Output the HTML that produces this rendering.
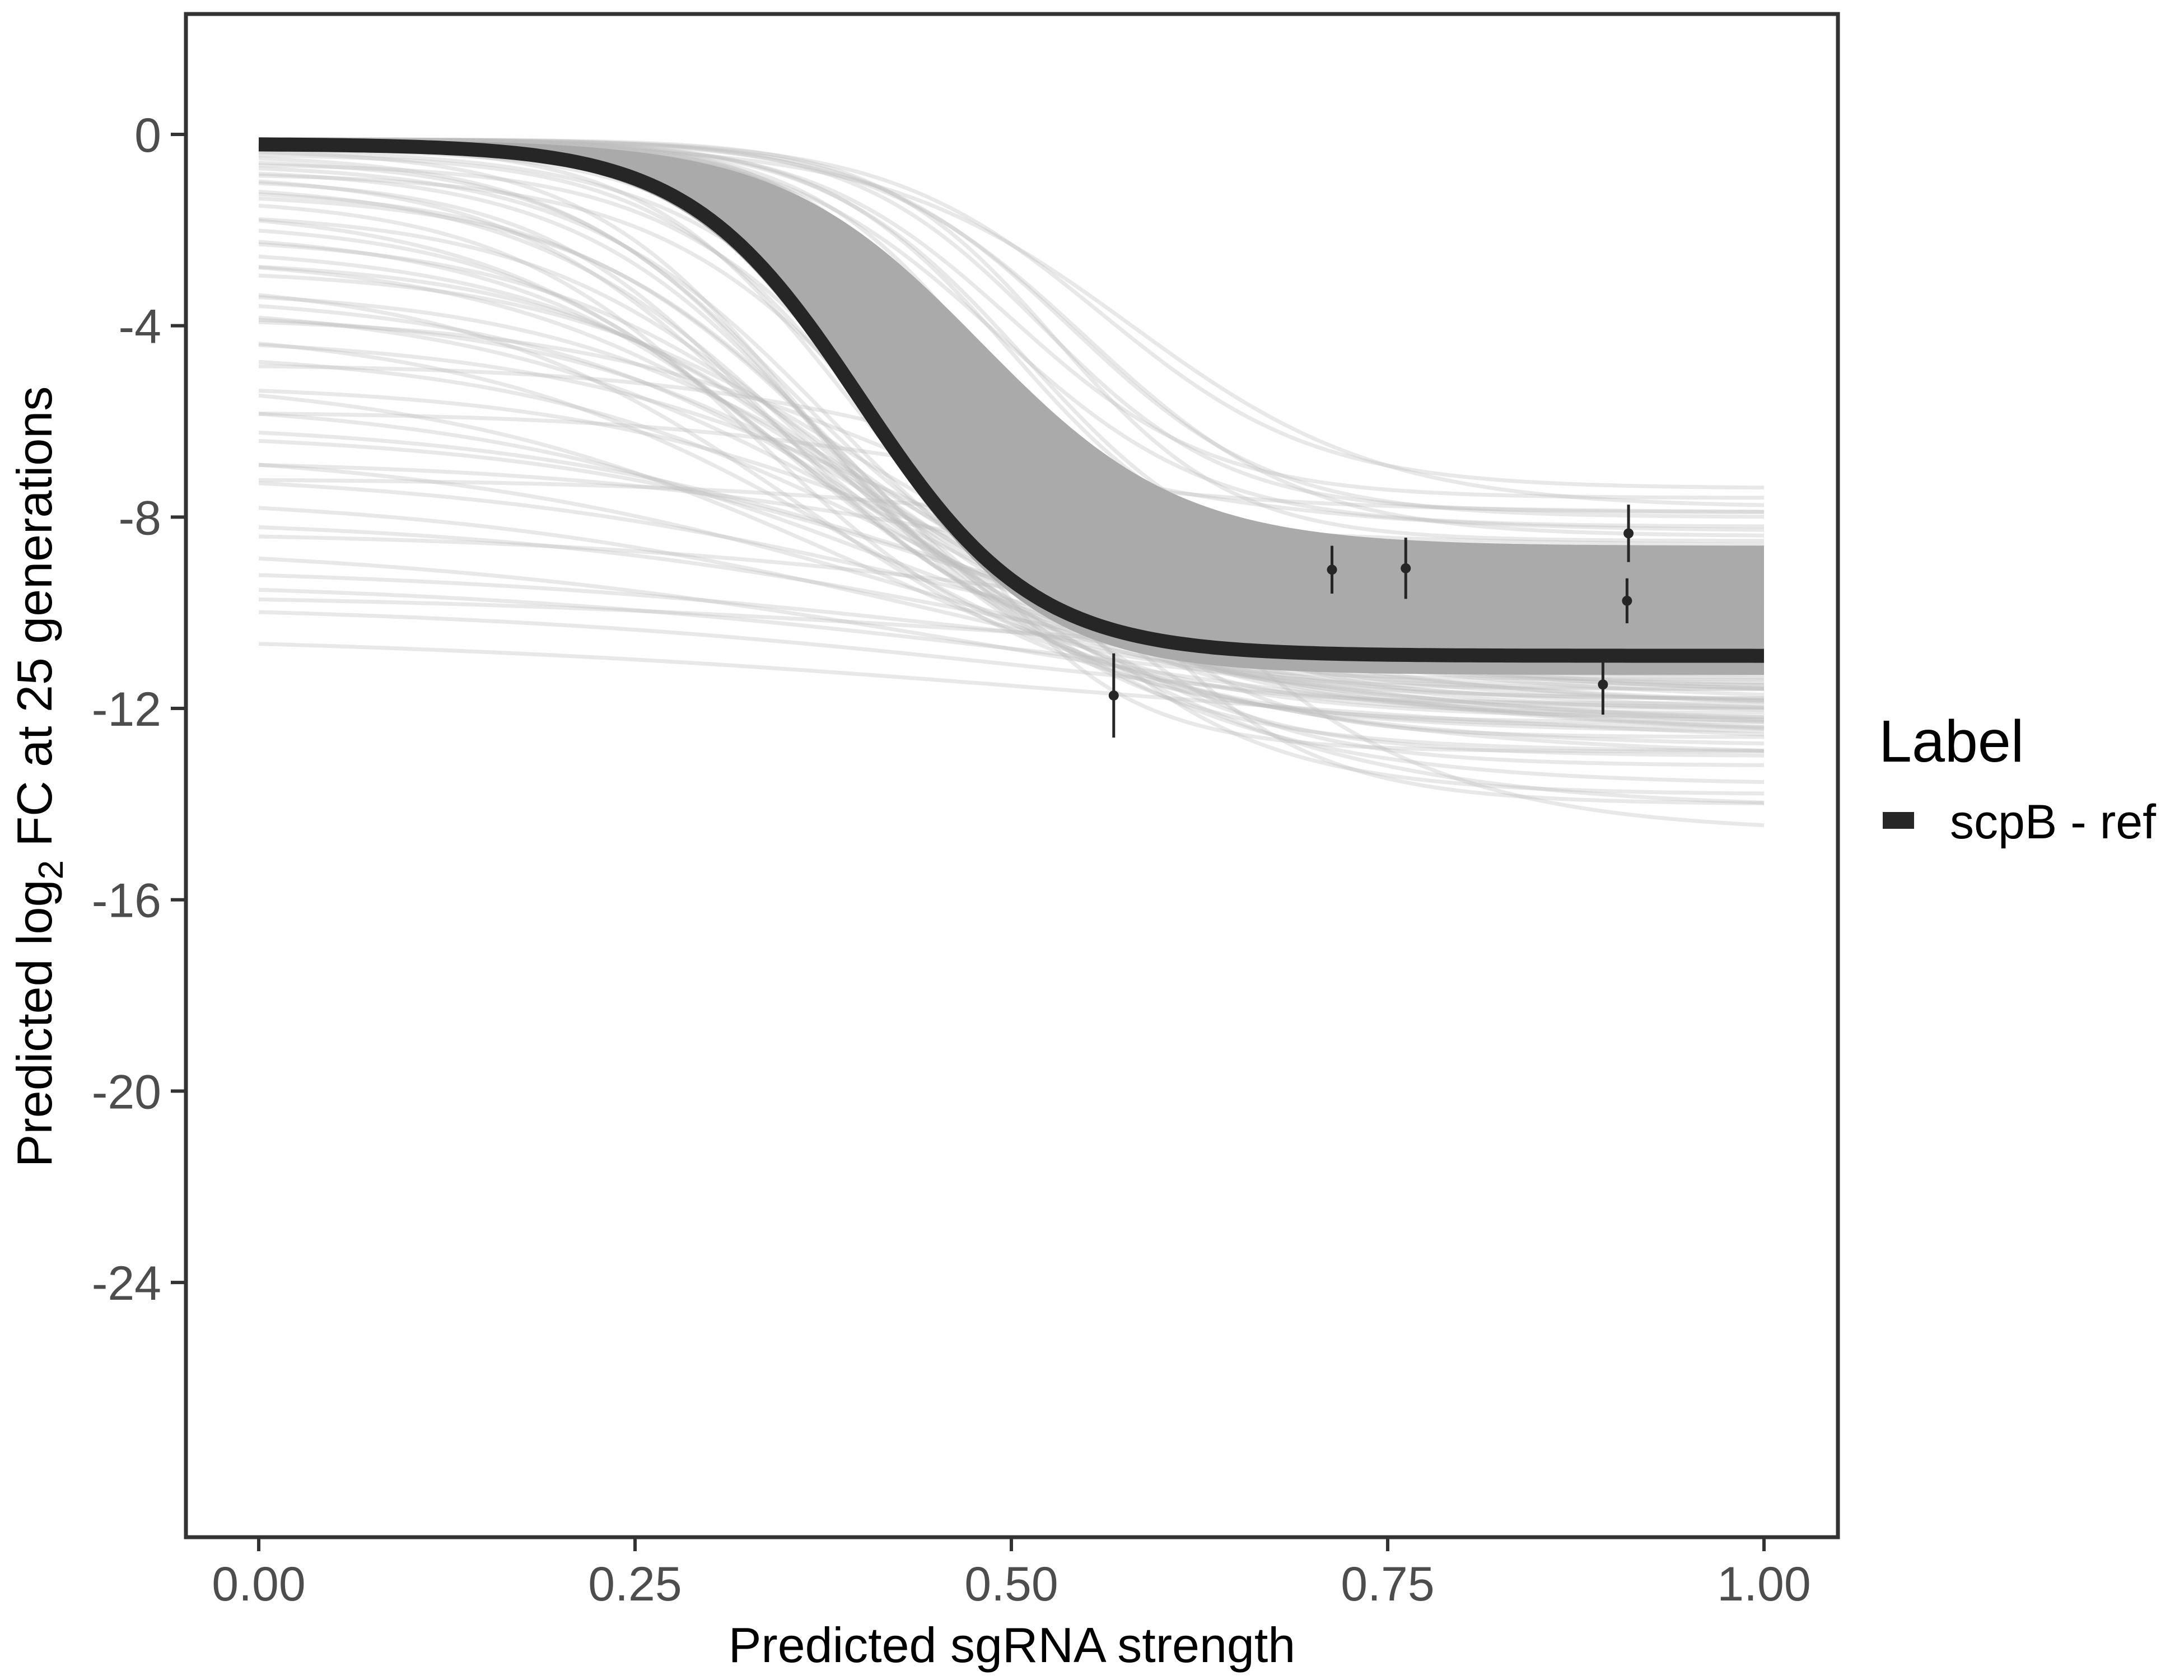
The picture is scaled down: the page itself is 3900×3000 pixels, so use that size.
<!DOCTYPE html>
<html><head><meta charset="utf-8">
<style>
html,body{margin:0;padding:0;background:#fff;}
svg{display:block;font-family:"Liberation Sans",sans-serif;}
</style></head>
<body>
<svg id="chart" width="3900" height="3000" viewBox="0 0 3900 3000">
<g id="plot"></g>
</svg>
<script>
// ---- data ----
const xTicks = [0, 0.25, 0.5, 0.75, 1.0];
const xTickLabels = ["0.00", "0.25", "0.50", "0.75", "1.00"];
const yTicks = [0, -4, -8, -12, -16, -20, -24];
const yTickLabels = ["0", "-4", "-8", "-12", "-16", "-20", "-24"];
// main fit: [top, bottom, midpoint, steepness]
const mainCurve = [-0.2, -10.9, 0.40, 17.5];
// dense band upper envelope
const bandUpper = [-0.1, -8.6, 0.48, 15];
// dense band lower envelope (right side, below main curve)
const bandLower = [-0.3, -11.3, 0.40, 17];
// posterior sample curves: [top, bottom, midpoint, steepness]
const sampleCurves = [
 [-0.1,-7.6,0.50,15],[-0.1,-7.9,0.52,16],[-0.1,-8.2,0.49,14],[-0.1,-8.5,0.53,17],[-0.1,-8.8,0.47,15],
 [-0.2,-9.2,0.46,14],[-0.1,-9.6,0.45,16],[-0.2,-10.0,0.44,15],[-0.1,-10.4,0.47,18],[-0.3,-11.0,0.42,15],
 [-0.1,-11.5,0.48,17],[-0.2,-12.0,0.45,14],[-0.1,-12.6,0.50,16],[-0.2,-13.2,0.47,13],[-0.3,-13.8,0.46,12],
 [-0.1,-14.0,0.52,14],[-0.2,-14.6,0.55,10],[-0.1,-7.4,0.56,14],[-0.2,-7.8,0.58,12],[-0.1,-12.9,0.43,16],
 [-0.6,-11.3,0.38,12],[-1.0,-11.6,0.36,11],[-1.5,-11.8,0.35,10],[-2.0,-12.2,0.37,10],[-2.5,-11.4,0.38,9],
 [-3.0,-12.5,0.36,9],[-3.5,-11.9,0.40,8],[-4.0,-12.8,0.39,8],[-4.5,-12.1,0.42,8],[-5.0,-13.0,0.40,7],
 [-5.5,-12.3,0.42,7],[-6.0,-11.7,0.45,7],[-6.5,-12.6,0.44,6],[-7.0,-11.9,0.46,6],[-7.5,-12.4,0.45,6],
 [-8.0,-12.0,0.48,6],[-8.5,-12.7,0.47,5],[-9.0,-11.8,0.50,5],[-9.3,-12.2,0.50,5],[-9.8,-12.5,0.52,5],
 [-10.4,-12.9,0.55,4],[-0.8,-10.6,0.33,12],[-1.8,-10.9,0.34,11],[-2.8,-10.4,0.39,10],[-3.8,-9.4,0.42,9],
 [-4.8,-8.3,0.48,9],[-5.8,-7.9,0.45,9],[-7.2,-8.6,0.50,8],[-6.8,-9.9,0.47,7],[-8.3,-10.8,0.52,6],
 [-1.2,-12.9,0.40,11],[-2.3,-13.6,0.42,9],[-3.3,-14.1,0.45,8],[-0.4,-10.1,0.35,13],[-9.6,-11.2,0.50,5],
 [-0.3,-11.2,0.36,14],[-0.5,-11.9,0.37,13],[-0.7,-12.3,0.38,12],[-0.9,-11.0,0.34,13],[-1.3,-11.4,0.33,12],
 [-0.2,-10.7,0.39,15],[-0.4,-11.6,0.41,14],[-0.6,-12.1,0.43,13],[-0.8,-13.0,0.44,12],[-1.1,-12.4,0.39,11],
 [-1.6,-10.8,0.36,11],[-2.1,-11.1,0.38,10],[-2.6,-12.0,0.40,10],[-3.2,-11.5,0.41,9],[-3.7,-12.3,0.43,9],
 [-4.2,-11.3,0.44,8],[-5.2,-11.6,0.46,8],[-6.2,-12.0,0.47,7],[-0.1,-9.0,0.50,16],[-0.1,-9.3,0.51,15],
 [-0.1,-8.0,0.54,15],[-0.1,-8.4,0.55,14],[-0.1,-9.8,0.49,16],[-0.2,-10.2,0.48,17],[-0.1,-11.8,0.50,15]
];
// observed points: [x, y, halfErr]
const pointsX = [0.568, 0.713, 0.762, 0.910, 0.909, 0.893];
const pointsY = [-11.73, -9.10, -9.07, -8.34, -9.75, -11.50];
const pointsErr = [0.88, 0.50, 0.64, 0.60, 0.47, 0.63];

// ---- scales ----
const PL=332, PR=3282, PT=25, PB=2745;
const X0=462, X1=3150;
const yZero=240, yPerUnit=85.42;
function sx(v){return X0+(X1-X0)*v;}
function sy(v){return yZero - v*yPerUnit;}
function logistic(p,x){return p[0]+(p[1]-p[0])/(1+Math.exp(-p[3]*(x-p[2])));}
function curvePts(p){let a=[];for(let i=0;i<=200;i++){const x=i/200;a.push([sx(x),sy(logistic(p,x))]);}return a;}
function toPath(pts){return 'M'+pts.map(q=>q[0].toFixed(1)+','+q[1].toFixed(1)).join('L');}

const NS='http://www.w3.org/2000/svg';
const svg=document.getElementById('chart');
const g=document.getElementById('plot');
function mk(tag,attrs,parent){const e=document.createElementNS(NS,tag);for(const k in attrs)e.setAttribute(k,attrs[k]);(parent||g).appendChild(e);return e;}

const defs=mk('defs',{},svg);
const cp=mk('clipPath',{id:'clip'},defs);
mk('rect',{x:PL,y:PT,width:PR-PL,height:PB-PT},cp);
g.setAttribute('clip-path','url(#clip)');

// sample curves
sampleCurves.forEach((p,i)=>{
  const e=mk('path',{d:toPath(curvePts(p)),fill:'none',stroke:'#bdbdbd','stroke-opacity':0.35,'stroke-width':7});
  
  
});
// band
const up=curvePts(bandUpper), lo=curvePts(bandLower).reverse();
const band=mk('path',{d:toPath(up.concat(lo))+'Z',fill:'#aaaaaa',stroke:'none'});


// main curve
const mc=mk('path',{d:toPath(curvePts(mainCurve)),fill:'none',stroke:'#262626','stroke-width':25});


// points
pointsX.forEach((x,i)=>{
  const l=mk('line',{x1:sx(x),x2:sx(x),y1:sy(pointsY[i]+pointsErr[i]),y2:sy(pointsY[i]-pointsErr[i]),stroke:'#262626','stroke-width':5});
  
  
  const c=mk('circle',{cx:sx(x),cy:sy(pointsY[i]),r:9,fill:'#262626'});
  
  
});

const border=mk('rect',{x:PL,y:PT,width:PR-PL,height:PB-PT,fill:'none',stroke:'#333','stroke-width':7},svg);



yTicks.forEach((v,i)=>{
  const t=mk('line',{x1:305,x2:PL,y1:sy(v),y2:sy(v),stroke:'#333','stroke-width':6},svg);
  
  
  const tx=mk('text',{x:288,y:sy(v)+31,'text-anchor':'end','font-size':86,fill:'#4d4d4d'},svg);
  tx.textContent=yTickLabels[i];
  
  
});
xTicks.forEach((v,i)=>{
  const t=mk('line',{x1:sx(v),x2:sx(v),y1:PB,y2:2770,stroke:'#333','stroke-width':6},svg);
  
  
  const tx=mk('text',{x:sx(v),y:2858,'text-anchor':'middle','font-size':86,fill:'#4d4d4d'},svg);
  tx.textContent=xTickLabels[i];
  
  
});
</script>
<svg style="position:absolute;left:0;top:0" width="3900" height="3000">
<text x="1807" y="2968" text-anchor="middle" font-size="88" fill="#000" font-family="Liberation Sans, sans-serif">Predicted sgRNA strength</text>
<text transform="translate(92,1387) rotate(-90)" text-anchor="middle" font-size="88" fill="#000" font-family="Liberation Sans, sans-serif">Predicted  log<tspan font-size="62" dy="20">2</tspan><tspan dy="-20"> FC at 25 generations</tspan></text>
<text x="3355" y="1360" font-size="106" fill="#000" font-family="Liberation Sans, sans-serif">Label</text>
<rect x="3362" y="1450" width="56" height="30" fill="#262626"/>
<text x="3482" y="1497" font-size="86" fill="#000" font-family="Liberation Sans, sans-serif">scpB - ref</text>
</svg>
</body></html>
